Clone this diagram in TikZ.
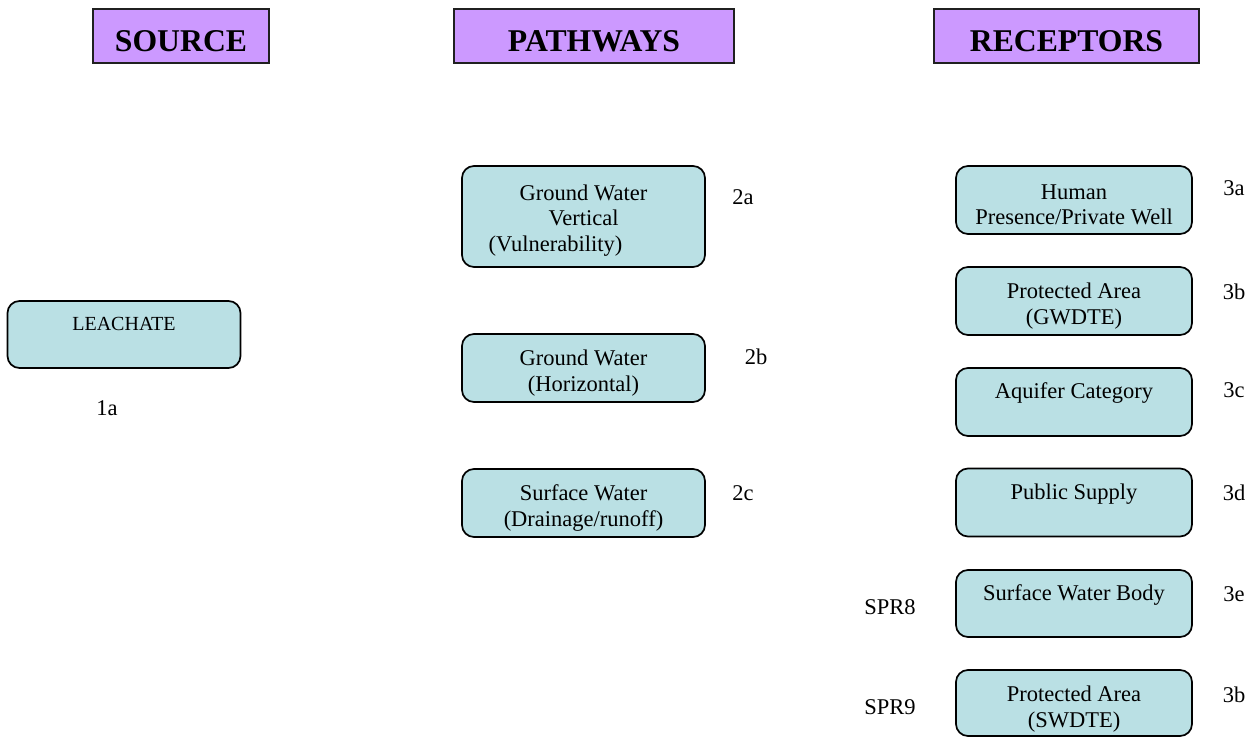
\documentclass[tikz,border=0pt]{standalone}
\usepackage{fontspec}
\setmainfont{Liberation Serif}
\definecolor{hdrfill}{HTML}{CC99FF}
\definecolor{boxfill}{HTML}{BAE0E4}
\definecolor{hdrline}{HTML}{202020}
\tikzset{
  hdr/.style={draw=hdrline, line width=2.4pt, fill=hdrfill, inner sep=0pt,
    text height=31pt, text depth=0pt,
    font=\fontsize{31.7}{36}\selectfont\bfseries},
  rbox/.style={draw=black, line width=1.7pt, fill=boxfill, rounded corners=12pt,
    inner sep=0pt},
  btxt/.style={inner sep=0pt, align=center, font=\fontsize{22.5}{25.5}\selectfont},
  lbl/.style={inner sep=0pt, font=\fontsize{22.5}{25.5}\selectfont}
}
\begin{document}
\begin{tikzpicture}[x=1pt,y=-1pt]
\useasboundingbox (0,0) rectangle (1253,738);
% headers
\node[hdr, minimum width=176pt, minimum height=54pt] (hs) at (181,36) {SOURCE};
\node[hdr, minimum width=280pt, minimum height=54pt] (hp) at (594,36) {PATHWAYS};
\node[hdr, minimum width=265pt, minimum height=54pt] (hr) at (1066.5,36) {RECEPTORS};
% source
\node[rbox, minimum width=233pt, minimum height=67pt] (leach) at (124,334.5) {};
\node[btxt, font=\fontsize{20}{23}\selectfont] (leacht) at ([yshift=11pt]leach.center) {LEACHATE};
\node[lbl] (l1a) at (107,408) {1a};
% pathways
\node[rbox, minimum width=243pt, minimum height=101pt] (p2a) at (583.5,216.5) {};
\node[btxt] (p2at) at ([yshift=-4pt]p2a.center) {Ground Water\\Vertical\\(Vulnerability)\hspace*{56pt}};
\node[lbl] (l2a) at (743,197) {2a};
\node[rbox, minimum width=243pt, minimum height=68pt] (p2b) at (583.5,368) {};
\begin{scope}
\clip (p2b.south west) rectangle (p2b.north east);
\node[btxt] (p2bt) at ([yshift=-5pt]p2b.center) {Ground Water\\(Horizontal)};
\end{scope}
\node[lbl] (l2b) at (756,357) {2b};
\node[rbox, minimum width=243pt, minimum height=68pt] (p2c) at (583.5,503) {};
\begin{scope}
\clip (p2c.south west) rectangle (p2c.north east);
\node[btxt] (p2ct) at ([yshift=-5pt]p2c.center) {Surface Water\\(Drainage/runoff)};
\end{scope}
\node[lbl] (l2c) at (743,493) {2c};
% receptors
\node[rbox, minimum width=236pt, minimum height=68pt] (r3a) at (1074,200) {};
\node[btxt] (r3at) at ([yshift=-5pt]r3a.center) {Human\\Presence/Private Well};
\node[lbl] (l3a) at (1234,188) {3a};
\node[rbox, minimum width=236pt, minimum height=68pt] (r3b) at (1074,301) {};
\node[btxt] (r3bt) at ([yshift=-5pt]r3b.center) {Protected Area\\(GWDTE)};
\node[lbl] (l3b) at (1234,292) {3b};
\node[rbox, minimum width=236pt, minimum height=68pt] (r3c) at (1074,402) {};
\node[btxt] (r3ct) at ([yshift=9pt]r3c.center) {Aquifer Category};
\node[lbl] (l3c) at (1234,390) {3c};
\node[rbox, minimum width=236pt, minimum height=68pt] (r3d) at (1074,502.5) {};
\node[btxt] (r3dt) at ([yshift=8pt]r3d.center) {Public Supply};
\node[lbl] (l3d) at (1234,493) {3d};
\node[rbox, minimum width=236pt, minimum height=67pt] (r3e) at (1074,603.5) {};
\node[btxt] (r3et) at ([yshift=8pt]r3e.center) {Surface Water Body};
\node[lbl] (l3e) at (1234,594) {3e};
\node[lbl] (spr8) at (890,607) {SPR8};
\node[rbox, minimum width=236pt, minimum height=66pt] (r3f) at (1074,703) {};
\begin{scope}
\clip (r3f.south west) rectangle (r3f.north east);
\node[btxt] (r3ft) at ([yshift=-6pt]r3f.center) {Protected Area\\(SWDTE)};
\end{scope}
\node[lbl] (l3f) at (1234,695) {3b};
\node[lbl] (spr9) at (890,707) {SPR9};
\end{tikzpicture}
\end{document}
